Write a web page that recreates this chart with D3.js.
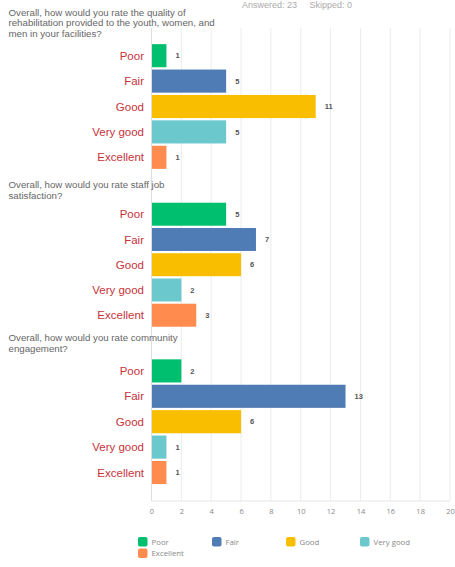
<!DOCTYPE html>
<html><head><meta charset="utf-8">
<script src="https://cdn.jsdelivr.net/npm/d3@7/dist/d3.min.js"></script>
<style>body{margin:0;background:#fff}svg{display:block}</style>
</head><body>
<script>
const categories = ["Poor","Fair","Good","Very good","Excellent"];
const questions = [
  ["Overall, how would you rate the quality of","rehabilitation provided to the youth, women, and","men in your facilities?"],
  ["Overall, how would you rate staff job","satisfaction?"],
  ["Overall, how would you rate community","engagement?"]
];
const rehabValues = [1,5,11,5,1];
const staffValues = [5,7,6,2,3];
const communityValues = [2,13,6,1,1];
const xTicks = [0,2,4,6,8,10,12,14,16,18,20];
const headerText = "Answered: 23     Skipped: 0";
const colors = ["#00bf6f","#507cb6","#f9be00","#6bc8cd","#ff8b4f"];

const W = 455, H = 567;
const svg = d3.select("body").append("svg").attr("width",W).attr("height",H);
const font = "Liberation Sans, Arial, sans-serif";

const x = d3.scaleLinear().domain([0,20]).range([151.5,450]);

// header
svg.append("text").attr("x",242).attr("y",7.5).attr("fill","#aaa")
  .attr("font-family",font).attr("font-size",9).attr("xml:space","preserve").text(headerText);

// grid
const grid = svg.append("g");
grid.selectAll("line").data(xTicks).join("line")
  .attr("x1",d=>x(d)).attr("x2",d=>x(d)).attr("y1",28).attr("y2",501)
  .attr("stroke",d=>d===0?"#ddd":"#ececec").attr("stroke-width",1);
grid.append("line").attr("x1",x(0)).attr("x2",x(20)).attr("y1",501).attr("y2",501).attr("stroke","#e6e6e6");

// axis tick labels
const axis = d3.axisBottom(x).tickValues(xTicks).tickSize(0).tickPadding(0);
const ag = svg.append("g").attr("transform","translate(0,508.5)").call(axis);
ag.select(".domain").remove();
ag.selectAll("text").attr("font-family","Open Sans, sans-serif").attr("font-size",7.5).attr("fill","#888").attr("dy","0.71em");

const panels = [
  {q:questions[0], v:rehabValues, top:43, titleY:15.5, lh:10.7, step:25.4},
  {q:questions[1], v:staffValues, top:201.6, titleY:187.5, lh:11.2, step:25.25},
  {q:questions[2], v:communityValues, top:358.2, titleY:340.5, lh:11.5, step:25.4}
];

panels.forEach(p=>{
  const g = svg.append("g");
  g.append("text").attr("font-family",font).attr("font-size",9.7).attr("fill","#666")
    .selectAll("tspan").data(p.q).join("tspan")
    .attr("x",8.5).attr("y",(d,i)=>p.titleY + i*p.lh).text(d=>d);
  const y = d3.scaleBand().domain(categories).range([p.top, p.top + p.step*5]).paddingInner(0.09).paddingOuter(0.045);
  g.selectAll("rect").data(categories).join("rect")
    .attr("x",x(0)+0.5).attr("y",d=>y(d)).attr("height",y.bandwidth())
    .attr("width",(d,i)=>x(p.v[i])-x(0)-0.5).attr("fill",(d,i)=>colors[i]);
  g.selectAll("text.cat").data(categories).join("text").attr("class","cat")
    .attr("x",144).attr("y",d=>y(d)+y.bandwidth()/2).attr("dy","0.35em")
    .attr("text-anchor","end").attr("font-family",font).attr("font-size",11.5).attr("fill","#c8323a").text(d=>d);
  g.selectAll("text.val").data(categories).join("text").attr("class","val")
    .attr("x",(d,i)=>x(p.v[i])+9).attr("y",d=>y(d)+y.bandwidth()/2).attr("dy","0.35em")
    .attr("font-family",font).attr("font-size",7.5).attr("font-weight","bold").attr("fill","#555").text((d,i)=>p.v[i]);
});

// legend
const legendPos = categories.map((c,i)=>({c, col: i%4, row: Math.floor(i/4)}));
const lg = svg.append("g");
const items = lg.selectAll("g").data(legendPos).join("g")
  .attr("transform",d=>`translate(${138 + d.col*74},${537 + d.row*11.5})`);
items.append("rect").attr("width",9.5).attr("height",9.5).attr("rx",2).attr("fill",(d,i)=>colors[i]);
items.append("text").attr("x",13.5).attr("y",4.9).attr("dy","0.35em")
  .attr("font-family","Open Sans, sans-serif").attr("font-size",7.8).attr("fill","#888").text(d=>d.c);
</script>
</body></html>
